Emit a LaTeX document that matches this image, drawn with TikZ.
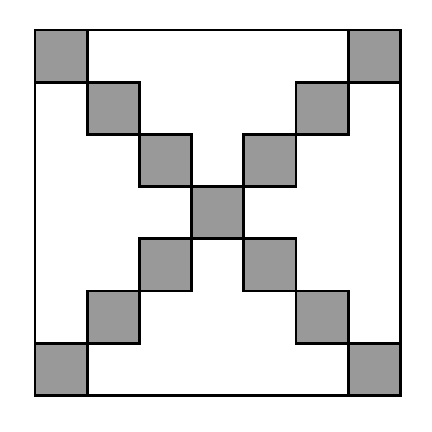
\documentclass[tikz,border=0pt]{standalone}
\definecolor{cellgray}{RGB}{153,153,153}
\begin{document}
\begin{tikzpicture}[x=1bp,y=-1bp,
  cell/.style={fill=cellgray,draw=black,line width=2.8bp},
  frame/.style={draw=black,line width=2.8bp}]
\useasboundingbox (0,0) rectangle (432,432);
\fill[white] (0,0) rectangle (432,432);
\def\ox{35}\def\oy{30}\def\u{52.2}
\foreach \i in {0,...,6}{
  \pgfmathsetmacro\xa{\ox+\i*\u}
  \pgfmathsetmacro\xb{\ox+(\i+1)*\u}
  \pgfmathsetmacro\ya{\oy+\i*\u}
  \pgfmathsetmacro\yb{\oy+(\i+1)*\u}
  \pgfmathsetmacro\yc{\oy+(6-\i)*\u}
  \pgfmathsetmacro\yd{\oy+(7-\i)*\u}
  \draw[cell] (\xa,\ya) rectangle (\xb,\yb);
  \draw[cell] (\xa,\yc) rectangle (\xb,\yd);
}
\draw[frame] (35,395.4) -- (400.4,395.4) -- (400.4,30) ;
\draw[frame] (35,30) -- (35,395.4);
\draw[draw=black,line width=1.8bp] (35,30) -- (400.4,30);
\end{tikzpicture}
\end{document}
